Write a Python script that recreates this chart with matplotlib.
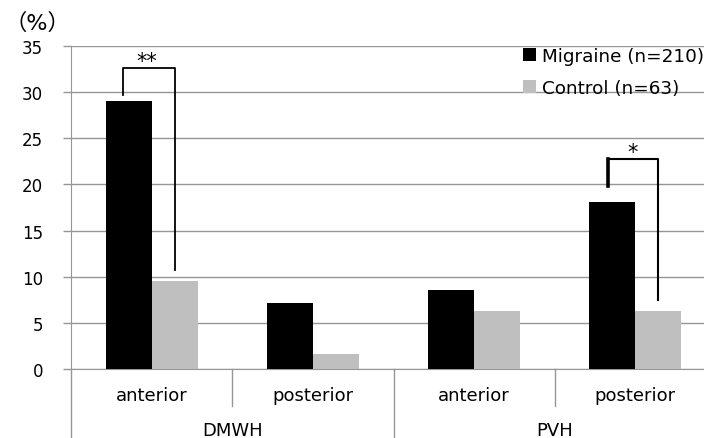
import matplotlib
matplotlib.use('Agg')
import matplotlib.pyplot as plt
import numpy as np

# values (%)
groups = ['DMWH', 'PVH']
locations = ['anterior', 'posterior', 'anterior', 'posterior']
migraine = [29.0, 7.1, 8.6, 18.1]
control = [9.5, 1.6, 6.3, 6.3]
series_labels = ['Migraine (n=210)', 'Control (n=63)']
yticks = [0, 5, 10, 15, 20, 25, 30, 35]

plt.rcParams['font.family'] = ['DejaVu Sans']
grid_col = '#969696'

fig = plt.figure(figsize=(7.04, 4.39), dpi=100)
ax = fig.add_axes([71 / 704, 69 / 439, 645 / 704, 323 / 439])

x = np.arange(len(locations))
w = 0.285
b1 = ax.bar(x - w / 2, migraine, w, color='black', label=series_labels[0], zorder=3)
b2 = ax.bar(x + w / 2, control, w, color='#bfbfbf', label=series_labels[1], zorder=3)

ax.set_xlim(-0.5, len(locations) - 0.5)
ax.set_ylim(0, 35)
ax.set_yticks(yticks)
ax.yaxis.grid(True, color=grid_col, linewidth=1.0)
ax.set_axisbelow(True)
for s in ['top', 'right']:
    ax.spines[s].set_visible(False)
ax.spines['left'].set_color(grid_col)
ax.spines['bottom'].set_color(grid_col)
ax.tick_params(axis='y', length=6, color=grid_col, width=1.0, pad=14, labelsize=12)
ax.set_xticks([])

# category axis: location labels, separators and group labels below the axis
tr = ax.get_xaxis_transform()
for i, name in enumerate(locations):
    ax.text(i, -0.08, name, transform=tr, ha='center', va='center', fontsize=13)
for i in [0.5, 2.5]:
    ax.plot([i, i], [0, -0.115], transform=tr, color=grid_col, lw=1, clip_on=False)
for i in [-0.5, 1.5, 3.5]:
    ax.plot([i, i], [0, -0.25], transform=tr, color=grid_col, lw=1, clip_on=False)
for j, g in enumerate(groups):
    ax.text(2 * j + 0.5, -0.188, g, transform=tr, ha='center', va='center', fontsize=13)

# significance brackets
ax.plot([-0.176, -0.176, 0.143, 0.143], [29.65, 32.65, 32.65, 10.7], color='black', lw=1.3, zorder=4)
ax.text(-0.03, 33.4, '**', ha='center', va='center', fontsize=15)
ax.plot([3 - 0.169, 3 - 0.169], [19.8, 22.8], color='black', lw=2.6, zorder=4)
ax.plot([3 - 0.169, 3.141, 3.141], [22.8, 22.8, 7.5], color='black', lw=1.5, zorder=4)
ax.text(3 - 0.018, 23.5, '*', ha='center', va='center', fontsize=15)

fig.text(37 / 704, 1 - 23 / 439, '（%）', ha='center', va='center', fontsize=16,
         family=['DejaVu Sans', 'Noto Sans CJK JP'])

ax.legend(handles=[b1, b2], loc='upper left', bbox_to_anchor=(523 / 704, 1 - 48 / 439),
          bbox_transform=fig.transFigure, frameon=False, fontsize=13.2,
          handlelength=0.7, handleheight=0.7, handletextpad=0.33, labelspacing=0.78,
          borderpad=0, borderaxespad=0)

fig.savefig('out.png', dpi=100)
